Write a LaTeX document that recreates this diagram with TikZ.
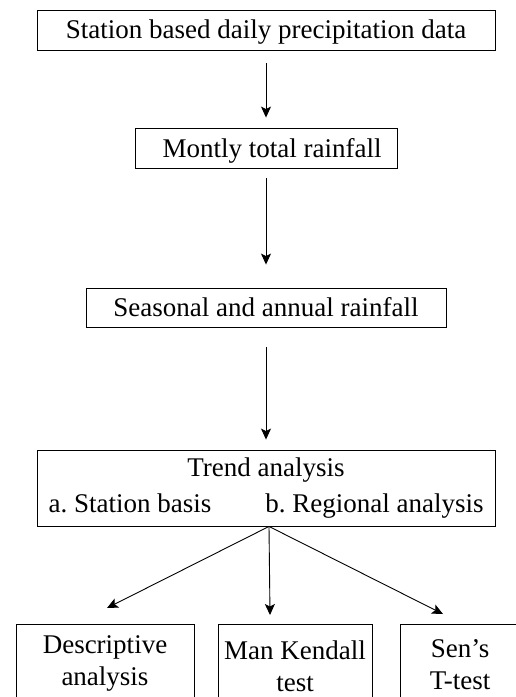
\documentclass[tikz,border=0pt]{standalone}
\usepackage{fontspec}
\setmainfont{Liberation Serif}
\usetikzlibrary{arrows.meta}
\frenchspacing

\begin{document}
\begin{tikzpicture}[x=1bp,y=-1bp,
        font=\fontsize{27bp}{36bp}\selectfont,
        line width=0.9bp,
        >={Stealth[length=11bp,width=10bp,inset=2.5bp]},
        box/.style={draw,inner sep=0pt,text height=18bp,text depth=0bp},
        tallbox/.style={draw,inner sep=0pt,align=center},
        lowbox/.style={tallbox,anchor=north,font=\fontsize{27bp}{32bp}\selectfont}]

            % page
            \useasboundingbox (0,0) rectangle (516,697);

            % boxes
            \node[box,minimum width=458bp,minimum height=40bp] (data) at (266,30) {Station based daily precipitation data};
            \node[box,minimum width=262bp,minimum height=40bp] (monthly) at (266,148) {\hspace{12bp}Montly total rainfall};
            \node[box,minimum width=360bp,minimum height=39bp] (seasonal) at (266,307.5) {Seasonal and annual rainfall};
            \node[tallbox,minimum width=458bp,minimum height=76bp] (trend) at (266,488) {Trend analysis\\a. Station basis\qquad b. Regional analysis};

            \node[lowbox,minimum width=178bp,minimum height=79bp] (descr) at (105,624) {Descriptive\\analysis};
            \node[lowbox,minimum width=154bp,minimum height=84bp] (mk) at (295,624) {Man Kendall\\test};
            \node[lowbox,minimum width=120bp,minimum height=81bp] (sens) at (460,624) {Sen’s\\T-test};

            % arrows
            \draw[->, shorten <=13bp, shorten >=10bp] (data) -- (monthly);
            \draw[->, shorten <=10bp, shorten >=23bp] (monthly) -- (seasonal);
            \draw[->, shorten <=20bp, shorten >=10bp] (seasonal) -- (trend);

            \coordinate (descrend) at (107,608);
            \coordinate (mkend) at (270,615);
            \coordinate (sensend) at (443,614);

            \draw[->] ([xshift=3bp]trend.south) -- (descrend);
            \draw[->] ([xshift=3bp]trend.south) -- (mkend);
            \draw[->] ([xshift=3bp]trend.south) -- (sensend);

        \end{tikzpicture}
\end{document}
